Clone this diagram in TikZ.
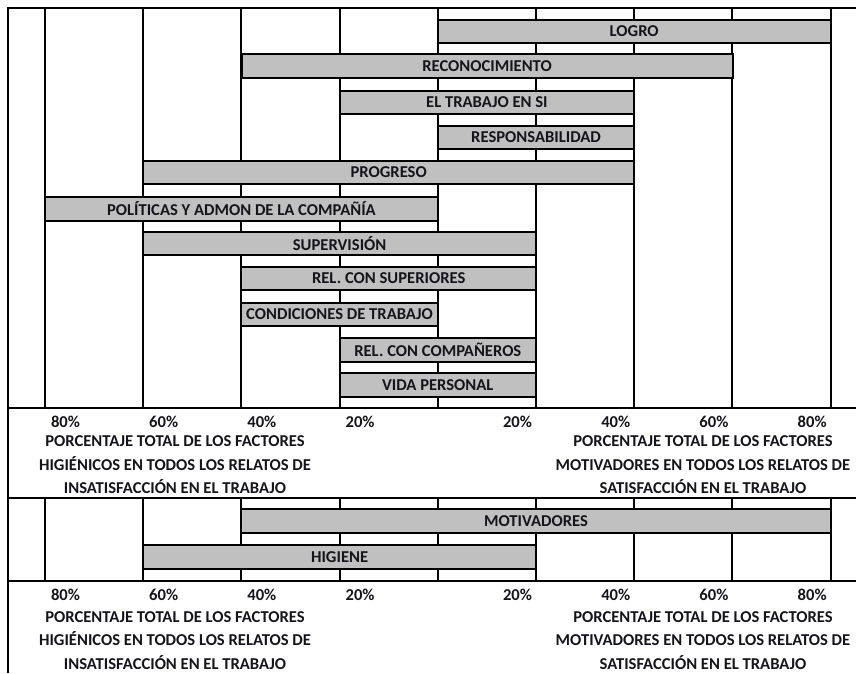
\documentclass[tikz,border=0pt]{standalone}
\usepackage{fontspec}
\setmainfont{Carlito}
\definecolor{barfill}{HTML}{C0C0C0}
\definecolor{txt}{HTML}{14141C}
\begin{document}
\begin{tikzpicture}[x=1pt,y=-1pt,line width=2pt,
  bar/.style={draw=black,fill=barfill,line width=2pt,inner sep=0pt,minimum height=23.5pt,
    font=\bfseries\fontsize{16.6}{19}\selectfont,text=txt},
  pct/.style={inner sep=0pt,font=\bfseries\fontsize{16.6}{19}\selectfont,text=txt},
  captxt/.style={inner sep=0pt,align=center,font=\bfseries\fontsize{16.6}{23.5}\selectfont,text=txt}]
\useasboundingbox (0,0) rectangle (856,673);
% grid lines
\foreach \k in {0,...,8}{
  \draw (45+98.2*\k,8) -- (45+98.2*\k,408);
  \draw (45+98.2*\k,498) -- (45+98.2*\k,581);
}
% frame
\draw (8,673) -- (8,8) -- (856,8);
\draw (8,408) -- (856,408);
\draw (8,498) -- (856,498);
\draw (8,581) -- (856,581);
% bars (top chart)
\node[bar,minimum width=392.8pt] (logro) at (634.2,31.5) {LOGRO};
\node[bar,minimum width=491pt]   (recon) at (487,66) {RECONOCIMIENTO};
\node[bar,minimum width=294.6pt] (trab)  at (486.9,102.5) {EL TRABAJO EN SI};
\node[bar,minimum width=196.4pt] (resp)  at (536,137.5) {RESPONSABILIDAD};
\node[bar,minimum width=491pt]   (prog)  at (388.7,172.5) {PROGRESO};
\node[bar,minimum width=392.8pt] (polit) at (241.4,209) {POLÍTICAS Y ADMON DE LA COMPAÑÍA};
\node[bar,minimum width=392.8pt] (superv) at (339.6,243.5) {SUPERVISIÓN};
\node[bar,minimum width=294.6pt] (relsup) at (388.7,278.5) {REL. CON SUPERIORES};
\node[bar,minimum width=196.4pt] (cond)  at (339.6,314.5) {CONDICIONES DE TRABAJO};
\node[bar,minimum width=196.4pt] (relcomp) at (437.8,350) {REL. CON COMPAÑEROS};
\node[bar,minimum width=196.4pt] (vida)  at (437.8,385) {VIDA PERSONAL};
% bars (bottom chart)
\node[bar,minimum width=589.2pt] (motiv) at (536,521) {MOTIVADORES};
\node[bar,minimum width=392.8pt] (hig)   at (339.6,557) {HIGIENE};
% percent labels
\foreach \yy/\nm in {422/a,595/b}{
  \node[pct,anchor=west] (l80\nm) at (50,\yy) {80\%};
  \node[pct,anchor=west] (l60\nm) at (148.2,\yy) {60\%};
  \node[pct,anchor=west] (l40\nm) at (246.4,\yy) {40\%};
  \node[pct,anchor=west] (l20\nm) at (344.6,\yy) {20\%};
  \node[pct,anchor=east] (r20\nm) at (533,\yy) {20\%};
  \node[pct,anchor=east] (r40\nm) at (631.2,\yy) {40\%};
  \node[pct,anchor=east] (r60\nm) at (729.4,\yy) {60\%};
  \node[pct,anchor=east] (r80\nm) at (827.6,\yy) {80\%};
}
% captions
\node[captxt] (capla) at (175,465) {PORCENTAJE TOTAL DE LOS FACTORES\\HIGIÉNICOS EN TODOS LOS RELATOS DE\\INSATISFACCIÓN EN EL TRABAJO};
\node[captxt] (capra) at (703,465) {PORCENTAJE TOTAL DE LOS FACTORES\\MOTIVADORES EN TODOS LOS RELATOS DE\\SATISFACCIÓN EN EL TRABAJO};
\node[captxt] (caplb) at (175,640.5) {PORCENTAJE TOTAL DE LOS FACTORES\\HIGIÉNICOS EN TODOS LOS RELATOS DE\\INSATISFACCIÓN EN EL TRABAJO};
\node[captxt] (caprb) at (703,640.5) {PORCENTAJE TOTAL DE LOS FACTORES\\MOTIVADORES EN TODOS LOS RELATOS DE\\SATISFACCIÓN EN EL TRABAJO};
\end{tikzpicture}
\end{document}
